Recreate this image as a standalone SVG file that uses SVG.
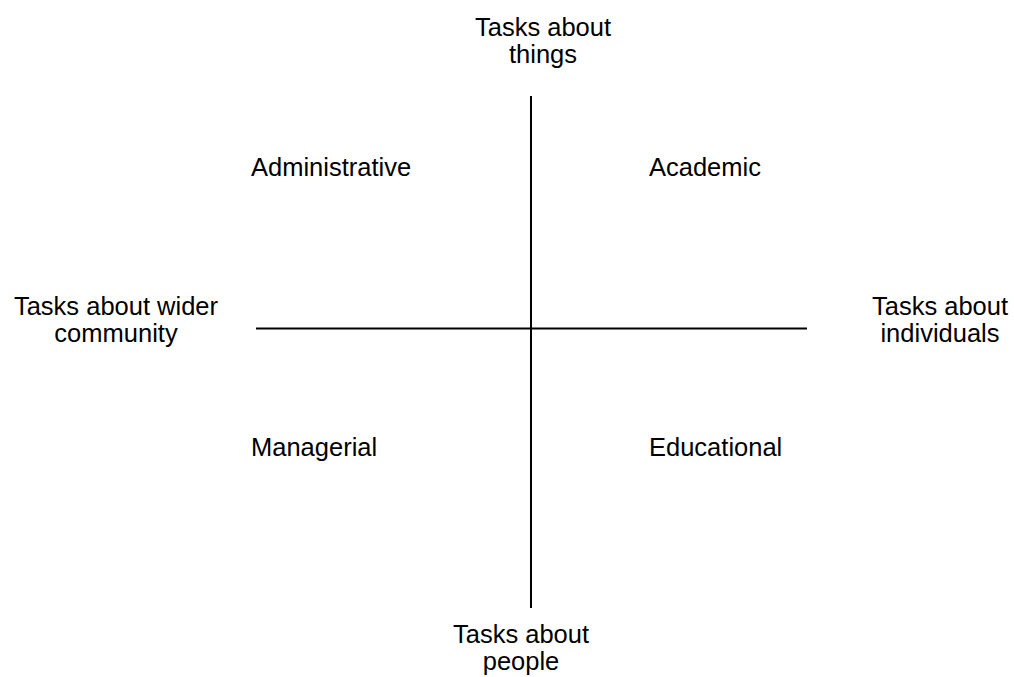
<svg xmlns="http://www.w3.org/2000/svg" width="1014" height="677" viewBox="0 0 1014 677">
<style>
text{font-family:"Liberation Sans",Arial,sans-serif;font-size:25.5px;fill:#000}
.c{text-anchor:middle}
.ax{stroke:#000;stroke-width:2;fill:none}
</style>
<rect width="1014" height="677" fill="#fff"/>
<g id="connectors">
<line class="ax" x1="531" y1="96" x2="531" y2="608"/>
<line class="ax" x1="256" y1="328.5" x2="807" y2="328.5"/>
</g>
<g id="top"><text class="c" x="543" y="36">Tasks about</text><text class="c" x="543" y="63">things</text></g>
<g id="left"><text class="c" x="116" y="315">Tasks about wider</text><text class="c" x="116" y="342">community</text></g>
<g id="right"><text class="c" x="940" y="315">Tasks about</text><text class="c" x="940" y="342">individuals</text></g>
<g id="bottom"><text class="c" x="521" y="643">Tasks about</text><text class="c" x="521" y="670">people</text></g>
<g id="administrative"><text x="251" y="176">Administrative</text></g>
<g id="academic"><text x="649" y="176">Academic</text></g>
<g id="managerial"><text x="251" y="456">Managerial</text></g>
<g id="educational"><text x="649" y="456">Educational</text></g>
</svg>
